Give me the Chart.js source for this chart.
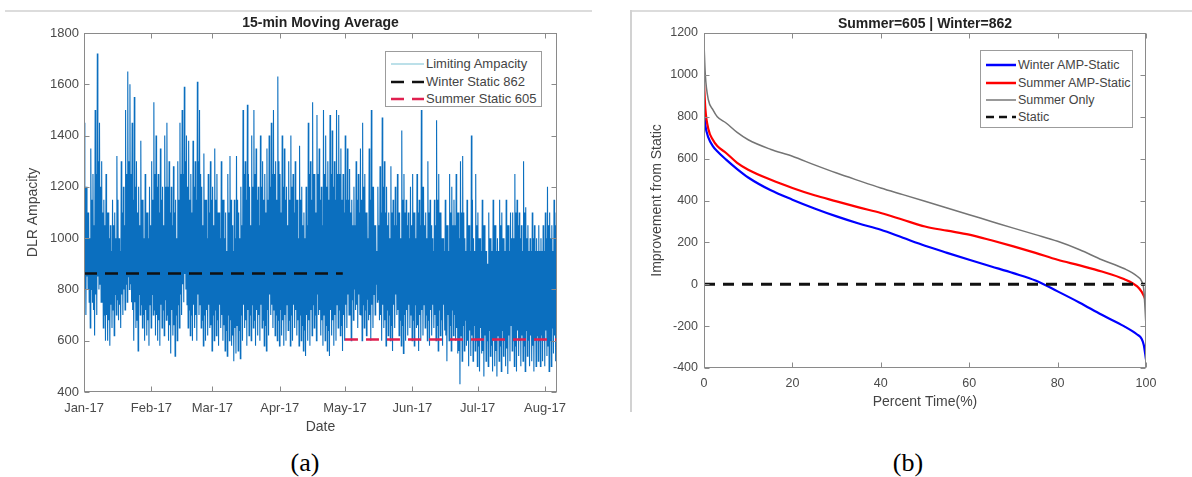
<!DOCTYPE html>
<html>
<head>
<meta charset="utf-8">
<script src="https://cdn.jsdelivr.net/npm/chart.js@4.4.1/dist/chart.umd.min.js"></script>
<style>
html,body{margin:0;padding:0;background:#fff;}
body{width:1192px;height:477px;position:relative;overflow:hidden;font-family:"Liberation Sans",Arial,sans-serif;}
canvas{position:absolute;}
#c1{left:0;top:0;}
#c2{left:630px;top:0;}
.hline{position:absolute;height:2px;background:#dcdcdc;}
.vline{position:absolute;width:2px;background:#d2d2d2;}
.legend{position:absolute;background:#fff;border:1px solid #9c9c9c;box-sizing:border-box;}
.row{position:absolute;left:0;height:16px;width:100%;}
.row svg{position:absolute;top:0;}
.row span{position:absolute;top:0;line-height:16px;color:#444;white-space:nowrap;}
.cap{position:absolute;font-family:"Liberation Serif","Times New Roman",serif;font-size:26px;line-height:26px;color:#000;transform:translateX(-50%);}
</style>
</head>
<body>
<div class="hline" style="left:5px;top:10px;width:587px;"></div>
<div class="hline" style="left:632px;top:10px;width:560px;"></div>
<div class="vline" style="left:630px;top:10px;height:402px;"></div>

<canvas id="c1" width="600" height="440" style="width:600px;height:440px;"></canvas>
<canvas id="c2" width="562" height="415" style="width:562px;height:415px;"></canvas>

<div class="legend" style="left:385px;top:51px;width:157px;height:56px;">
  <div class="row" style="top:4px;"><svg width="34" height="16" style="left:4px;"><line x1="1" y1="8" x2="34" y2="8" stroke="#a6d6e2" stroke-width="1.5"/></svg><span style="left:40px;font-size:13px;">Limiting Ampacity</span></div>
  <div class="row" style="top:22px;"><svg width="34" height="16" style="left:4px;"><line x1="1" y1="8" x2="34" y2="8" stroke="#111" stroke-width="2.5" stroke-dasharray="13 8"/></svg><span style="left:40px;font-size:13px;">Winter Static 862</span></div>
  <div class="row" style="top:39px;"><svg width="34" height="16" style="left:4px;"><line x1="1" y1="8" x2="34" y2="8" stroke="#e0204f" stroke-width="2.5" stroke-dasharray="13 8"/></svg><span style="left:40px;font-size:13px;">Summer Static 605</span></div>
</div>

<div class="legend" style="left:980px;top:50px;width:153px;height:78px;">
  <div class="row" style="top:6px;"><svg width="31" height="16" style="left:4px;"><line x1="1" y1="8" x2="31" y2="8" stroke="#0000ff" stroke-width="2.5"/></svg><span style="left:37px;font-size:12.5px;">Winter AMP-Static</span></div>
  <div class="row" style="top:24px;"><svg width="31" height="16" style="left:4px;"><line x1="1" y1="8" x2="31" y2="8" stroke="#ff0000" stroke-width="2.5"/></svg><span style="left:37px;font-size:12.5px;">Summer AMP-Static</span></div>
  <div class="row" style="top:41px;"><svg width="31" height="16" style="left:4px;"><line x1="1" y1="8" x2="31" y2="8" stroke="#777" stroke-width="1.5"/></svg><span style="left:37px;font-size:12.5px;">Summer Only</span></div>
  <div class="row" style="top:58px;"><svg width="31" height="16" style="left:4px;"><line x1="1" y1="8" x2="31" y2="8" stroke="#111" stroke-width="2.5" stroke-dasharray="8 5"/></svg><span style="left:37px;font-size:12.5px;">Static</span></div>
</div>

<div class="cap" style="left:305px;top:450px;">(a)</div>
<div class="cap" style="left:908px;top:450px;">(b)</div>

<script>
// ---------- Panel (a) data ----------
const monthStarts = [0, 31, 59, 90, 120, 151, 181, 212];
const monthLabels = ['Jan-17', 'Feb-17', 'Mar-17', 'Apr-17', 'May-17', 'Jun-17', 'Jul-17', 'Aug-17'];
const ampYTicks = [400, 600, 800, 1000, 1200, 1400, 1600, 1800];

// per-day extremes of the 15-min moving-average ampacity (day 0 = Jan 1)
const ampHigh = [
  1450, 1200, 1100, 1350, 1250, 1500, 1720, 1450, 1300, 1150,
  1250, 1100, 1050, 1150, 1100, 1320, 1000, 1300, 1200, 1500,
  1650, 1600, 1450, 1550, 1300, 1200, 1380, 1150, 1250, 1100,
  1200, 1300, 1530, 1400, 1250, 1350, 1200, 1400, 1450, 1300,
  1200, 1280, 1150, 1300, 1450, 1500, 1590, 1400, 1380, 1250,
  1380, 1300, 1610, 1500, 1200, 1330, 1150, 1250, 1300, 1200,
  1350, 1250, 1100, 1300, 1150, 1100, 1250, 1320, 1050, 1150,
  1320, 1100, 1200, 1500, 1300, 1520, 1200, 1400, 1500, 1350,
  1200, 1400, 1300, 1250, 1350, 1400, 1450, 1500, 1300, 1630,
  1250, 1400, 1350, 1200, 1300, 1400, 1250, 1300, 1150, 1360,
  1200, 1100, 1200, 1450, 1300, 1530, 1250, 1480, 1350, 1200,
  1500, 1400, 1300, 1480, 1420, 1300, 1500, 1480, 1350, 1250,
  1400, 1350, 1270, 1150, 1200, 1300, 1250, 1350, 1450, 1250,
  1100, 1350, 1500, 1200, 1050, 1200, 1280, 1470, 1300, 1200,
  1100, 1280, 1150, 1200, 1250, 1100, 1420, 1250, 1150, 1100,
  1200, 1250, 1100, 1250, 1150, 1500, 1200, 1100, 1300, 1150,
  1000, 1150, 1460, 1250, 1100, 1000, 1150, 1050, 1250, 1200,
  1150, 1250, 1100, 1300, 1320, 1000, 1150, 1050, 1400, 1000,
  1250, 1100, 1000, 1150, 1050, 950, 1100, 1000, 1150, 1050,
  1000, 1150, 1100, 1000, 1150, 1050, 1100, 1100, 1250, 1150,
  1100, 1050, 1300, 1120, 1050, 1000, 1100, 1050, 1000, 1050,
  1000, 1050, 1100, 1200, 1100, 1050, 1150, 1100
];
const ampLow = [
  700, 800, 650, 750, 620, 700, 800, 750, 650, 600,
  600, 580, 650, 620, 700, 680, 650, 700, 720, 750,
  800, 750, 600, 650, 560, 700, 650, 600, 620, 580,
  650, 700, 620, 600, 580, 650, 620, 680, 600, 550,
  620, 540, 600, 650, 700, 750, 800, 650, 620, 600,
  650, 600, 700, 650, 580, 600, 620, 650, 560, 600,
  620, 580, 650, 600, 560, 540, 600, 580, 520, 550,
  560, 530, 600, 650, 580, 620, 600, 650, 580, 620,
  600, 650, 580, 560, 620, 700, 650, 620, 600, 580,
  620, 580, 600, 640, 580, 600, 650, 620, 580, 600,
  560, 540, 600, 580, 620, 650, 600, 700, 620, 580,
  600, 560, 540, 620, 580, 600, 650, 620, 560, 600,
  650, 700, 600, 680, 720, 650, 700, 600, 650, 620,
  680, 600, 650, 700, 750, 680, 600, 650, 580, 620,
  600, 560, 650, 700, 620, 580, 550, 600, 620, 650,
  600, 580, 650, 560, 600, 620, 650, 600, 580, 620,
  650, 600, 560, 620, 580, 640, 520, 600, 560, 620,
  600, 550, 430, 520, 560, 580, 500, 540, 520, 560,
  500, 480, 550, 460, 520, 500, 540, 480, 500, 460,
  520, 480, 540, 500, 470, 520, 560, 500, 480, 540,
  500, 520, 480, 540, 500, 520, 480, 500, 520, 500,
  520, 500, 540, 480, 500, 550, 520, 600
];
// secondary (intra-day) peak and trough
const ampHigh2 = [
  1200, 1100, 1000, 1150, 1050, 1250, 1300, 1200, 1100, 1050,
  1100, 1000, 950, 1050, 1000, 1150, 950, 1100, 1050, 1250,
  1300, 1250, 1150, 1200, 1100, 1050, 1150, 1000, 1100, 1000,
  1050, 1150, 1250, 1200, 1100, 1150, 1050, 1200, 1200, 1100,
  1050, 1100, 1000, 1150, 1250, 1250, 1300, 1200, 1150, 1100,
  1200, 1150, 1300, 1250, 1050, 1150, 1000, 1100, 1150, 1050,
  1150, 1100, 1000, 1150, 1000, 950, 1100, 1150, 950, 1000,
  1150, 1000, 1050, 1250, 1150, 1250, 1050, 1200, 1250, 1150,
  1050, 1200, 1150, 1100, 1150, 1200, 1250, 1250, 1150, 1300,
  1100, 1200, 1150, 1050, 1150, 1200, 1100, 1150, 1000, 1150,
  1050, 1000, 1050, 1250, 1150, 1250, 1100, 1250, 1150, 1050,
  1250, 1200, 1150, 1250, 1200, 1150, 1250, 1250, 1150, 1100,
  1150, 1150, 1100, 1050, 1050, 1150, 1100, 1150, 1200, 1100,
  1000, 1150, 1200, 1050, 950, 1050, 1100, 1200, 1100, 1050,
  1000, 1100, 1050, 1050, 1100, 1000, 1150, 1100, 1050, 1000,
  1050, 1100, 1000, 1100, 1050, 1200, 1050, 1000, 1100, 1050,
  950, 1050, 1150, 1100, 1000, 950, 1050, 950, 1100, 1050,
  1050, 1100, 1000, 1100, 1100, 950, 1050, 950, 1150, 950,
  1050, 1000, 950, 1050, 950, 900, 1000, 950, 1050, 950,
  950, 1050, 1000, 950, 1050, 950, 1000, 1000, 1100, 1050,
  1000, 950, 1100, 1000, 950, 950, 1000, 950, 950, 950,
  950, 950, 1000, 1050, 1000, 950, 1050, 1000
];
const ampLow2 = [
  800, 850, 750, 800, 720, 780, 850, 820, 750, 700,
  700, 680, 740, 720, 780, 760, 740, 780, 800, 820,
  850, 820, 720, 750, 680, 780, 740, 700, 720, 680,
  740, 780, 720, 700, 680, 740, 720, 760, 700, 660,
  720, 660, 700, 740, 780, 820, 860, 740, 720, 700,
  740, 700, 780, 740, 680, 700, 720, 740, 660, 700,
  720, 680, 740, 700, 660, 640, 700, 680, 620, 650,
  660, 640, 700, 740, 680, 720, 700, 740, 680, 720,
  700, 740, 680, 660, 720, 780, 740, 720, 700, 680,
  720, 680, 700, 740, 680, 700, 740, 720, 680, 700,
  660, 640, 700, 680, 720, 740, 700, 780, 720, 680,
  700, 660, 640, 720, 680, 700, 740, 720, 660, 700,
  740, 780, 700, 760, 800, 740, 780, 700, 740, 720,
  760, 700, 740, 780, 820, 760, 700, 740, 680, 720,
  700, 660, 740, 780, 720, 680, 660, 700, 720, 740,
  700, 680, 740, 660, 700, 720, 740, 700, 680, 720,
  740, 700, 660, 720, 680, 740, 620, 700, 660, 720,
  700, 650, 560, 620, 660, 680, 600, 640, 620, 660,
  600, 580, 650, 560, 620, 600, 640, 580, 600, 560,
  620, 580, 640, 600, 570, 620, 660, 600, 580, 640,
  600, 620, 580, 640, 600, 620, 580, 600, 620, 600,
  620, 600, 640, 580, 600, 650, 620, 680
];
const winterStatic = 862;
const summerStatic = 605;
const winterSpan = [0, 119];      // Jan 1 .. Apr 30
const summerSpan = [120, 217.5];  // May 1 .. end of record
const lastDay = 217.5;

// ---------- Panel (b) data ----------
const pctTime    = [0, 0.3, 1, 2, 3, 5, 7.5, 10, 15, 20, 25, 30, 35, 40, 45, 50, 55, 60, 65, 70, 75, 80, 85, 90, 95, 98, 99, 99.5, 100];
const winterAmp  = [830, 760, 700, 660, 635, 595, 550, 510, 450, 404, 362, 324, 290, 260, 222, 184, 150, 117, 85, 53, 18, -34, -88, -146, -200, -240, -260, -290, -360];
const summerAmp  = [960, 840, 740, 690, 660, 627, 580, 547, 500, 460, 425, 396, 367, 340, 308, 276, 256, 237, 210, 181, 150, 117, 90, 61, 25, -10, -35, -55, -80];
const summerOnly = [1150, 1000, 880, 834, 800, 770, 725, 690, 645, 611, 570, 531, 495, 460, 428, 396, 364, 332, 300, 268, 237, 205, 165, 117, 75, 38, 15, -26, -200];
const staticPct  = [0, 100];
const staticVals = [0, 0];

// ---------- build series ----------
const ampPoints = [];
ampHigh.forEach((h, d) => {
  ampPoints.push({x: d + 0.125, y: h});
  ampPoints.push({x: d + 0.375, y: ampLow2[d]});
  ampPoints.push({x: d + 0.625, y: ampHigh2[d]});
  ampPoints.push({x: d + 0.875, y: ampLow[d]});
});
const winterPts = winterSpan.map(x => ({x, y: winterStatic}));
const summerPts = summerSpan.map(x => ({x, y: summerStatic}));
const zip = (xs, ys) => xs.map((x, i) => ({x, y: ys[i]}));

const FONT = '"Liberation Sans", Arial, sans-serif';
const TICKC = '#4a4a4a';

const framePlugin = {
  id: 'matlabFrame',
  afterDatasetsDraw(chart) {
    const {ctx, chartArea: a, scales} = chart;
    const L = Math.round(a.left) + 0.5, R = Math.round(a.right) - 0.5;
    const T = Math.round(a.top) + 0.5, B = Math.round(a.bottom) - 0.5;
    ctx.save();
    ctx.strokeStyle = '#8a8a8a';
    ctx.lineWidth = 1;
    ctx.beginPath();
    scales.x.ticks.forEach(t => {
      const px = Math.round(scales.x.getPixelForValue(t.value)) + 0.5;
      ctx.moveTo(px, B); ctx.lineTo(px, B - 5);
      ctx.moveTo(px, T); ctx.lineTo(px, T + 5);
    });
    scales.y.ticks.forEach(t => {
      const py = Math.round(scales.y.getPixelForValue(t.value)) + 0.5;
      ctx.moveTo(L, py); ctx.lineTo(L + 5, py);
      ctx.moveTo(R, py); ctx.lineTo(R - 5, py);
    });
    ctx.stroke();
    ctx.strokeRect(L, T, R - L, B - T);
    ctx.restore();
  }
};

// ---------- Panel (a) ----------
new Chart(document.getElementById('c1'), {
  type: 'line',
  data: {
    datasets: [
      {label: 'Limiting Ampacity', data: ampPoints, borderColor: '#0b6fbf', borderWidth: 1.1, pointRadius: 0, tension: 0, order: 2},
      {label: 'Winter Static 862', data: winterPts, borderColor: '#111111', borderWidth: 2.5, borderDash: [13, 8], pointRadius: 0, order: 1},
      {label: 'Summer Static 605', data: summerPts, borderColor: '#e0204f', borderWidth: 2.5, borderDash: [13, 8], pointRadius: 0, order: 0}
    ]
  },
  options: {
    responsive: false,
    animation: false,
    layout: {padding: {left: 21, right: 43, top: 0, bottom: 0}},
    plugins: {
      legend: {display: false},
      tooltip: {enabled: false},
      title: {display: true, text: '15-min Moving Average', fullSize: false, color: '#222',
              font: {family: FONT, size: 14, weight: 'bold'}, padding: {top: 14.6, bottom: 1.6}}
    },
    scales: {
      x: {
        type: 'linear', min: 0, max: lastDay,
        afterBuildTicks: s => { s.ticks = monthStarts.map(v => ({value: v})); },
        afterFit: s => { s.height = 48; },
        ticks: {autoSkip: false, maxRotation: 0, padding: 9, color: TICKC, font: {family: FONT, size: 13},
                callback: v => monthLabels[monthStarts.indexOf(v)]},
        grid: {display: false, drawTicks: false},
        border: {display: false},
        title: {display: true, text: 'Date', color: '#444', font: {family: FONT, size: 14}, padding: {top: 4, bottom: 4}}
      },
      y: {
        min: 400, max: 1800,
        afterBuildTicks: s => { s.ticks = ampYTicks.map(v => ({value: v})); },
        afterFit: s => { s.width = 63; },
        ticks: {padding: 5, color: TICKC, font: {family: FONT, size: 13}, callback: v => String(v)},
        grid: {display: false, drawTicks: false},
        border: {display: false},
        title: {display: true, text: 'DLR Ampacity', color: '#444', font: {family: FONT, size: 14}, padding: {top: 4, bottom: 4}}
      }
    }
  },
  plugins: [framePlugin]
});

// ---------- Panel (b) ----------
new Chart(document.getElementById('c2'), {
  type: 'line',
  data: {
    datasets: [
      {label: 'Winter AMP-Static', data: zip(pctTime, winterAmp), borderColor: '#0000ff', borderWidth: 2.2, pointRadius: 0, cubicInterpolationMode: 'monotone', order: 3},
      {label: 'Summer AMP-Static', data: zip(pctTime, summerAmp), borderColor: '#ff0000', borderWidth: 2.2, pointRadius: 0, cubicInterpolationMode: 'monotone', order: 2},
      {label: 'Summer Only', data: zip(pctTime, summerOnly), borderColor: '#747474', borderWidth: 1.5, pointRadius: 0, cubicInterpolationMode: 'monotone', order: 1},
      {label: 'Static', data: zip(staticPct, staticVals), borderColor: '#111111', borderWidth: 2.8, borderDash: [11, 8], pointRadius: 0, order: 0}
    ]
  },
  options: {
    responsive: false,
    animation: false,
    layout: {padding: {left: 15, right: 46, top: 0, bottom: 0}},
    plugins: {
      legend: {display: false},
      tooltip: {enabled: false},
      title: {display: true, text: 'Summer=605 | Winter=862', fullSize: false, color: '#222',
              font: {family: FONT, size: 14, weight: 'bold'}, padding: {top: 15.6, bottom: 0.6}}
    },
    scales: {
      x: {
        type: 'linear', min: 0, max: 100,
        afterFit: s => { s.height = 47; },
        ticks: {stepSize: 20, maxRotation: 0, padding: 8, color: TICKC, font: {family: FONT, size: 12.5}, callback: v => String(v)},
        grid: {display: false, drawTicks: false},
        border: {display: false},
        title: {display: true, text: 'Percent Time(%)', color: '#444', font: {family: FONT, size: 14}, padding: {top: 4, bottom: 4}}
      },
      y: {
        min: -400, max: 1200,
        afterFit: s => { s.width = 59; },
        ticks: {stepSize: 200, padding: 6, color: TICKC, font: {family: FONT, size: 12.5}, callback: v => String(v)},
        grid: {display: false, drawTicks: false},
        border: {display: false},
        title: {display: true, text: 'Improvement from Static', color: '#444', font: {family: FONT, size: 14}, padding: {top: 4, bottom: 4}}
      }
    }
  },
  plugins: [framePlugin]
});
</script>
</body>
</html>
